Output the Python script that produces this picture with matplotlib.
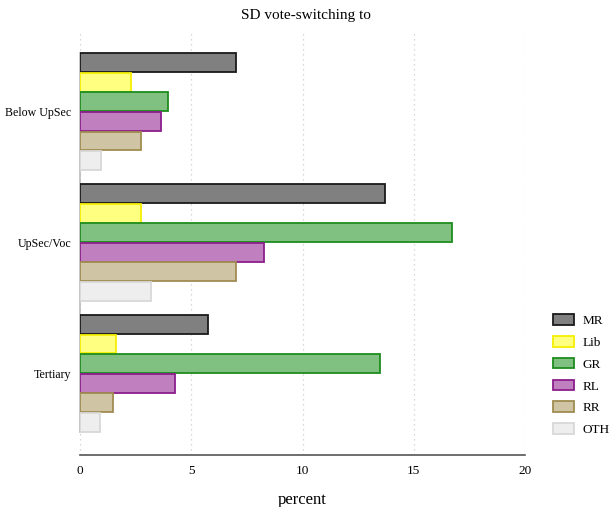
import matplotlib
matplotlib.use("Agg")
import matplotlib.pyplot as plt
import numpy as np

plt.rcParams["font.family"] = ["Liberation Serif", "DejaVu Serif"]

groups = ["Below UpSec", "UpSec/Voc", "Tertiary"]
parties = ["MR", "Lib", "GR", "RL", "RR", "OTH"]
values = {
    "MR":  [7.0, 13.7, 5.75],
    "Lib": [2.3, 2.75, 1.6],
    "GR":  [3.95, 16.7, 13.5],
    "RL":  [3.65, 8.25, 4.27],
    "RR":  [2.75, 7.0, 1.5],
    "OTH": [0.95, 3.2, 0.9],
}
fills = {"MR": "#808080", "Lib": "#ffff80", "GR": "#80c080",
         "RL": "#c080c0", "RR": "#cfc4a4", "OTH": "#eeeeee"}
edges = {"MR": "#1a1a1a", "Lib": "#f5f000", "GR": "#1e8c1e",
         "RL": "#8c1e8c", "RR": "#a08c50", "OTH": "#d8d8d8"}
xticks = [0, 5, 10, 15, 20]

fig = plt.figure(figsize=(6.11, 5.07), dpi=100)
ax = fig.add_axes([80/611, 52/507, 445/611, 425/507])

spacing = 6.68
centers = np.arange(len(groups)) * spacing
for j, p in enumerate(parties):
    y = centers + (j - 2.5)
    ax.barh(y, values[p], height=0.96, color=fills[p], edgecolor=edges[p],
            linewidth=1.3, label=p, zorder=3)

ax.set_ylim(centers[-1] + 4.16, centers[0] - 4.16)
ax.set_xlim(0, 20)
ax.set_yticks(centers)
ax.set_yticklabels(groups, fontsize=8.6)
ax.set_xticks(xticks)
ax.set_xticklabels([str(t) for t in xticks], fontsize=9.5)
ax.tick_params(axis="y", length=0, pad=6)
ax.tick_params(axis="x", length=0, pad=7)

ax.grid(axis="x", linestyle=(0, (1, 3)), color="#cccccc", linewidth=0.9, zorder=0)
for s in ["top", "right"]:
    ax.spines[s].set_visible(False)
ax.spines["bottom"].set_color("#555555")
ax.spines["bottom"].set_linewidth(1.2)
ax.spines["left"].set_color("#bbbbbb")
ax.spines["left"].set_linewidth(1.2)
ax.spines["left"].set_bounds(centers[-1] + 3.0, centers[0] - 3.0)

ax.set_xlabel("percent", fontsize=12, labelpad=11)
fig.text(0.5, 1 - 16/507, "SD vote-switching to", ha="center", va="center", fontsize=11)

leg = ax.legend(loc="upper left", bbox_to_anchor=((548 - 80)/445, (507 - 52 - 309)/425),
                frameon=False, fontsize=9.5, handlelength=1.6, handleheight=0.85,
                labelspacing=0.68, handletextpad=0.6, borderaxespad=0)

fig.savefig("out.png", dpi=100)
